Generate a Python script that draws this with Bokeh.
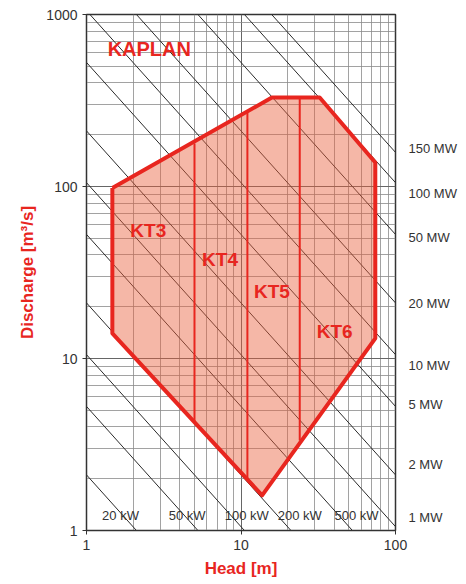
from bokeh.plotting import figure
from bokeh.models import FixedTicker, PrintfTickFormatter, LogAxis, Range1d, LogScale
from bokeh.core.properties import value
from bokeh.embed import file_html
from bokeh.resources import INLINE

# ---- data ----
power_kw = [20, 50, 100, 200, 500, 1000, 2000, 5000, 10000, 20000, 50000, 100000, 150000]
k_factor = 9.5  # P[kW] ~ k * Q * H

bottom_labels = ["20 kW", "50 kW", "100 kW", "200 kW", "500 kW"]
bottom_label_head = [1.66, 4.48, 10.9, 24.0, 56.0]
bottom_label_q = [1.22, 1.22, 1.22, 1.22, 1.22]

right_labels = ["150 MW", "100 MW", "50 MW", "20 MW", "10 MW", "5 MW", "2 MW", "1 MW"]
right_label_q = [166, 91, 50.5, 20.9, 9.1, 5.41, 2.42, 1.19]

env_head = [1.47, 15.85, 32.3, 74.0, 74.0, 13.7, 1.47, 1.47]
env_q = [98, 329, 329, 138, 13.1, 1.6, 14.0, 98]

div_head = [5.0, 11.0, 24.0]
div_q_low = [4.3, 2.0, 3.34]
div_q_high = [178, 270, 329]

zones = ["KT3", "KT4", "KT5", "KT6"]
zone_head = [2.51, 7.32, 15.85, 40.4]
zone_q = [55.5, 37.6, 24.5, 14.4]

x_ticks = [1, 10, 100]
y_ticks = [1, 10, 100, 1000]
x_minor = [m * d for d in (1, 10) for m in range(2, 10)]
y_minor = [m * d for d in (1, 10, 100) for m in range(2, 10)]

RED = "#e8261f"
FONT = "Liberation Sans"

p = figure(width=459, height=580, x_axis_type="log", y_axis_type="log",
           x_range=(1, 100), y_range=(1, 1000),
           output_backend="svg", toolbar_location=None,
           min_border_left=86, min_border_right=58, min_border_top=14, min_border_bottom=50,
           background_fill_color="white", border_fill_color="white")

p.outline_line_color = "#333333"
p.outline_line_width = 1.5

p.xaxis.ticker = FixedTicker(ticks=x_ticks, minor_ticks=x_minor)
p.yaxis.ticker = FixedTicker(ticks=y_ticks, minor_ticks=y_minor)
p.xaxis.formatter = PrintfTickFormatter(format="%d")
p.yaxis.formatter = PrintfTickFormatter(format="%d")

for ax in (p.xaxis, p.yaxis):
    ax.major_label_text_font = FONT
    ax.major_label_text_font_size = "14px"
    ax.major_label_text_color = "#333333"
    ax.axis_line_color = "#333333"
    ax.major_tick_line_color = "#333333"
    ax.major_tick_out = 4
    ax.major_tick_in = 0
    ax.minor_tick_line_color = None
    ax.axis_label_text_font = FONT
    ax.axis_label_text_font_style = "bold"
    ax.axis_label_text_font_size = "17px"
    ax.axis_label_text_color = RED
    ax.major_label_standoff = 5
    ax.axis_label_standoff = 6

p.xaxis.axis_label = "Head [m]"
p.yaxis.axis_label = "Discharge [m\u00b3/s]"

for g in (p.xgrid, p.ygrid):
    g.grid_line_color = "#666666"
    g.grid_line_width = 1
    g.minor_grid_line_color = "#8a8a8a"
    g.minor_grid_line_width = 0.8

# right-side power labels via an extra axis
p.extra_y_ranges = {"pw": Range1d(1, 1000)}
p.extra_y_scales = {"pw": LogScale()}
right_axis = LogAxis(y_range_name="pw",
                     ticker=FixedTicker(ticks=right_label_q, minor_ticks=[]),
                     major_label_overrides={q: lab for q, lab in zip(right_label_q, right_labels)})
right_axis.axis_line_color = None
right_axis.major_tick_line_color = None
right_axis.minor_tick_line_color = None
right_axis.major_label_standoff = 7
right_axis.major_label_text_font = FONT
right_axis.major_label_text_font_size = "13px"
right_axis.major_label_text_color = "#333333"
p.add_layout(right_axis, "right")

# constant power lines
h0, h1 = 0.5, 100.0
pl_xs = [[h0, h1] for _ in power_kw]
pl_ys = [[pw / (k_factor * h0), pw / (k_factor * h1)] for pw in power_kw]
p.multi_line(xs=pl_xs, ys=pl_ys, line_color="#2b2b2b", line_width=1)

# Kaplan envelope
p.patch(env_head, env_q, fill_color="#e8603c", fill_alpha=0.45, line_color=None)
p.segment(x0=div_head, y0=div_q_low, x1=div_head, y1=div_q_high, line_color=RED, line_width=2)
p.line(env_head, env_q, line_color=RED, line_width=4, line_join="round")

# zone labels
p.text(x=zone_head, y=zone_q, text=zones, text_color=RED, text_font=value(FONT),
       text_font_size="19px", text_font_style="bold", text_align="center", text_baseline="middle")
p.text(x=[2.55], y=[626], text=["KAPLAN"], text_color=RED, text_font=value(FONT),
       text_font_size="20px", text_font_style="bold", text_align="center", text_baseline="middle")

# kW labels inside
p.text(x=bottom_label_head, y=bottom_label_q, text=bottom_labels, text_color="#333333",
       text_font=value(FONT), text_font_size="13px", text_align="center", text_baseline="middle")

open("out.html", "w").write(file_html(p, INLINE))
